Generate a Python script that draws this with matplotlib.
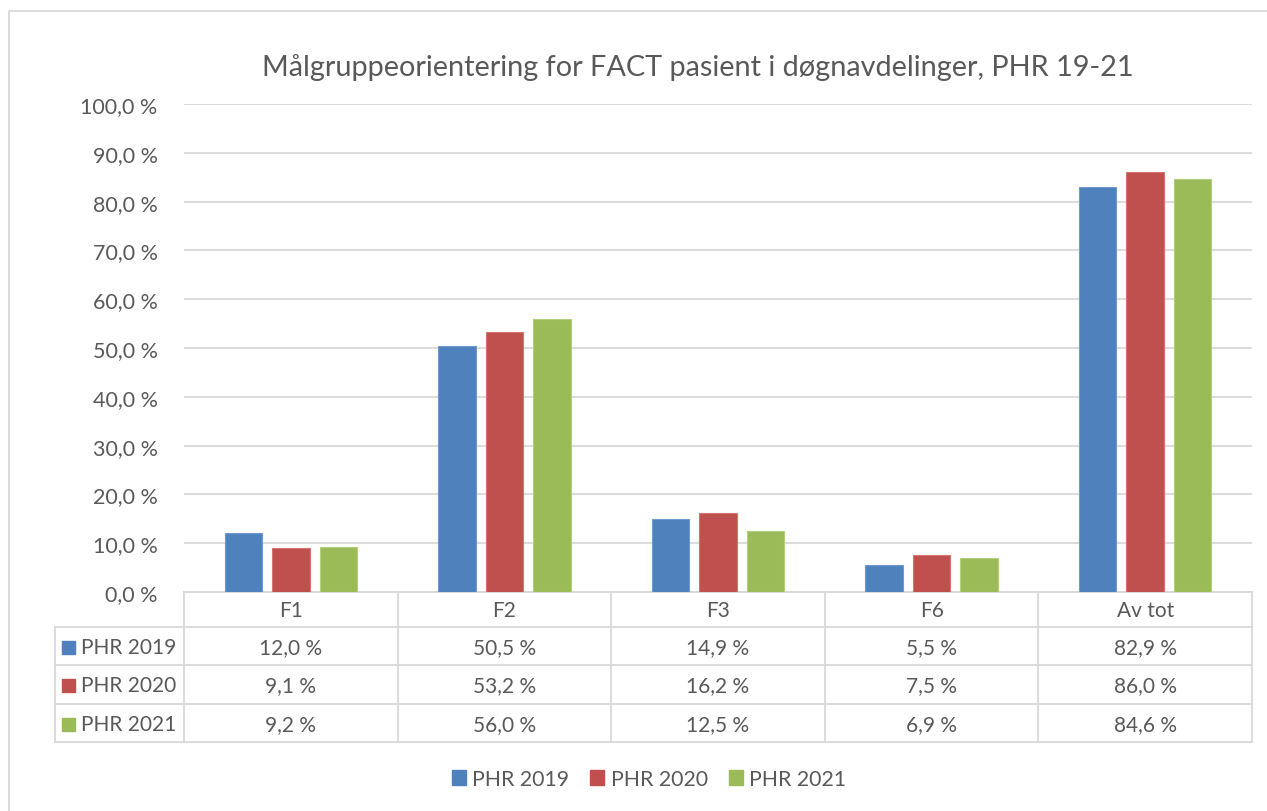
import numpy as np
import matplotlib.pyplot as plt
from matplotlib.transforms import blended_transform_factory
from matplotlib.patches import Patch

plt.rcParams['font.family'] = ['Lato', 'DejaVu Sans']

kategorier = ['F1', 'F2', 'F3', 'F6', 'Av tot']
serier = ['PHR 2019', 'PHR 2020', 'PHR 2021']
phr2019 = [12.0, 50.5, 14.9, 5.5, 82.9]
phr2020 = [9.1, 53.2, 16.2, 7.5, 86.0]
phr2021 = [9.2, 56.0, 12.5, 6.9, 84.6]
verdier = [phr2019, phr2020, phr2021]
farger = ['#4F81BD', '#C0504D', '#9BBB59']
kantfarger = ['#6F9AD0', '#D77470', '#B2CF7C']
tekstfarge = '#595959'
linjefarge = '#D9D9D9'

W, H = 1267, 812
fig = plt.figure(figsize=(W / 100, H / 100), dpi=100)

# bakgrunn i pikselkoordinater (ramme og tabell)
bg = fig.add_axes([0, 0, 1, 1])
bg.set_xlim(0, W)
bg.set_ylim(H, 0)
bg.axis('off')
bg.plot([9, 9, W + 5], [H + 5, 12, 12], color=linjefarge, lw=1.3)

ax = fig.add_axes([184 / W, 1 - 593 / H, (1252 - 184) / W, (593 - 105) / H])
x = np.arange(len(kategorier))
bredde = 0.1756
avstand = 0.2224
for i, (navn, v) in enumerate(zip(serier, verdier)):
    ax.bar(x + (i - 1) * avstand, v, bredde, color=farger[i],
           edgecolor=kantfarger[i], linewidth=0.8, label=navn, zorder=3)

ax.set_xlim(-0.5, len(kategorier) - 0.5)
ax.set_ylim(0, 100)
ax.set_yticks(np.arange(0, 101, 10))
ax.set_yticklabels([f'{t:.1f} %'.replace('.', ',') for t in range(0, 101, 10)],
                   fontsize=15.5, color=tekstfarge)
ax.tick_params(axis='y', length=0, pad=19)
ax.set_xticks([])
ax.grid(axis='y', color=linjefarge, lw=1.3, zorder=0)
for s in ax.spines.values():
    s.set_visible(False)
ax.patch.set_alpha(0)

bg.text(698, 68, 'Målgruppeorientering for FACT pasient i døgnavdelinger, PHR 19-21',
        ha='center', va='center', fontsize=20.8, color=tekstfarge)

# datatabell under diagrammet
tr = blended_transform_factory(ax.transData, bg.transData)
rader_y = [593, 628, 666, 705, 743]
venstre = 55
lk = dict(color=linjefarge, lw=1.3, clip_on=False, solid_capstyle='projecting')
# vertikale linjer
for k in range(len(kategorier) + 1):
    ax.plot([k - 0.5, k - 0.5], [rader_y[0], rader_y[-1]], transform=tr, **lk)
bg.plot([venstre, venstre], [rader_y[1], rader_y[-1]], **lk)
# horisontale linjer
ax.plot([-0.5, len(kategorier) - 0.5], [rader_y[0], rader_y[0]], transform=tr, **lk)
for yy in rader_y[1:]:
    bg.plot([venstre, 184], [yy, yy], **lk)
    ax.plot([-0.5, len(kategorier) - 0.5], [yy, yy], transform=tr, **lk)

for k, kat in enumerate(kategorier):
    ax.text(k, (rader_y[0] + rader_y[1]) / 2 + 1, kat, transform=tr, ha='center',
            va='center', fontsize=15, color=tekstfarge)
for r, (navn, v) in enumerate(zip(serier, verdier)):
    ym = (rader_y[r + 1] + rader_y[r + 2]) / 2 + 1
    bg.add_patch(plt.Rectangle((62, ym - 6.5), 13, 13, color=farger[r]))
    bg.text(81, ym, navn, ha='left', va='center', fontsize=15, color=tekstfarge)
    for k, val in enumerate(v):
        ax.text(k, ym, f'{val:.1f} %'.replace('.', ','), transform=tr,
                ha='center', va='center', fontsize=15, color=tekstfarge)

handles = [Patch(color=c, label=n) for c, n in zip(farger, serier)]
fig.legend(handles=handles, loc='center', bbox_to_anchor=(649 / W, 1 - 780 / H),
           ncol=3, frameon=False, fontsize=15.3, labelcolor=tekstfarge,
           handlelength=0.65, handleheight=0.65, handletextpad=0.3,
           columnspacing=1.0)

fig.savefig('out.png', dpi=100)
